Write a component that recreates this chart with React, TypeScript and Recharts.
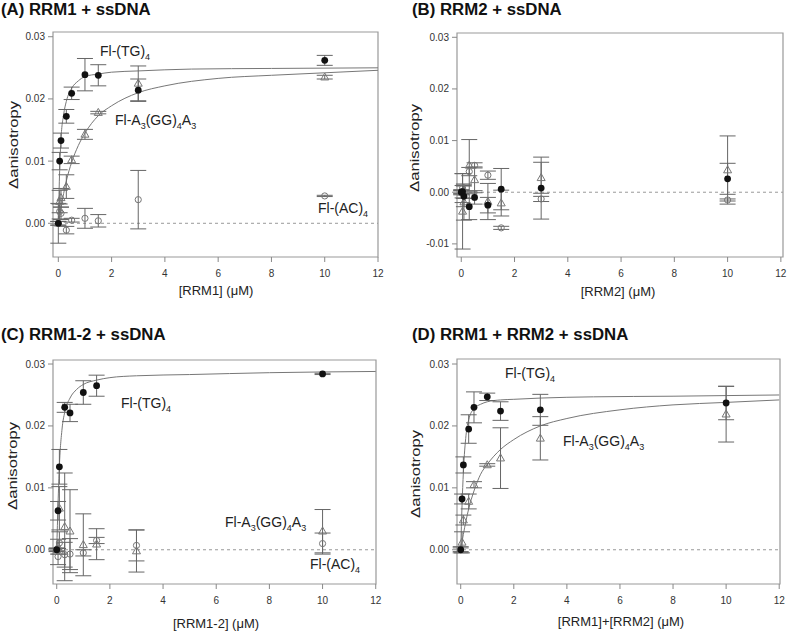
import React from "react";
import {
  ComposedChart,
  Scatter,
  Line,
  XAxis,
  YAxis,
  ErrorBar,
  ReferenceLine,
  ReferenceArea,
} from "recharts";

// concentrations (uM)
const conc = [0, 0.05, 0.1, 0.3, 0.5, 1, 1.5, 3, 10];
const concNo3 = [0, 0.05, 0.1, 0.3, 0.5, 1, 1.5, 10];
const xTicks = [0, 2, 4, 6, 8, 10, 12];
const yTicks = [0, 0.01, 0.02, 0.03];
const yTicksB = [-0.01, 0, 0.01, 0.02, 0.03];

// (A) RRM1
const aTG = [0, 0.01, 0.0133, 0.0172, 0.0209, 0.0239, 0.0238, 0.0214, 0.0262];
const aTGerr = [0.0032, 0.0014, 0.0012, 0.0011, 0.001, 0.0026, 0.0017, 0.0018, 0.0008];
const aA3 = [0, 0.0035, 0.0041, 0.0059, 0.0102, 0.0143, 0.0178, 0.0225, 0.0235];
const aA3err = [0.0003, 0.0018, 0.0015, 0.0019, 0.0006, 0.0008, 0.0002, 0.0028, 0.0003];
const aAC = [0, 0.0019, 0.0016, -0.0011, 0.0005, 0.0008, 0.0004, 0.0038, 0.0044];
const aACerr = [0.0003, 0.0012, 0.001, 0.0006, 0.0003, 0.0016, 0.001, 0.0047, 0.0001];
const aFitTGx = [0, 0.05, 0.1, 0.2, 0.3, 0.5, 0.75, 1, 1.5, 2, 3, 5, 8, 12];
const aFitTG = [0, 0.0085, 0.0135, 0.0175, 0.0196, 0.0217, 0.0229, 0.0236, 0.024, 0.0243, 0.0245, 0.0248, 0.0249, 0.025];
const aFitA3x = [0, 0.1, 0.2, 0.3, 0.5, 0.75, 1, 1.5, 2, 3, 4, 6, 8, 10, 12];
const aFitA3 = [0, 0.0025, 0.0048, 0.0068, 0.0098, 0.0125, 0.0145, 0.0173, 0.0189, 0.021, 0.0221, 0.0233, 0.0238, 0.0242, 0.0246];

// (B) RRM2
const bTG = [0, 0.0001, -0.0008, -0.0028, -0.001, -0.0025, 0.0006, 0.0008, 0.0026];
const bTGerr = [0.0005, 0.0012, 0.002, 0.0025, 0.0013, 0.0015, 0.004, 0.006, 0.003];
const bA3 = [0, -0.0037, -0.0019, 0.0052, 0.0024, -0.0018, -0.0021, 0.0028, 0.0043];
const bA3err = [0.0003, 0.0073, 0.0035, 0.005, 0.0025, 0.0035, 0.0025, 0.003, 0.0066];
const bAC = [0, 0.0008, 0.0001, 0.004, 0.0052, 0.0033, -0.0069, -0.0013, -0.0015];
const bACerr = [0.0003, 0.0028, 0.0013, 0.0008, 0.0005, 0.0008, 0.0003, 0.0005, 0.0002];

// (C) RRM1-2
const cTG = [0, 0.0063, 0.0134, 0.023, 0.0221, 0.0254, 0.0265, 0.0284];
const cTGerr = [0.0003, 0.0015, 0.0028, 0.0008, 0.0014, 0.0019, 0.0017, 0.0001];
const cA3 = [0, 0.0005, 0.0067, 0.0037, 0.003, 0.0008, 0.0009, -0.0002, 0.003];
const cA3err = [0.0002, 0.0012, 0.0035, 0.0087, 0.0067, 0.005, 0.0025, 0.0034, 0.0035];
const cAC = [0, -0.0011, 0.0011, -0.0008, -0.0007, -0.0005, 0.0015, 0.0007, 0.001];
const cACerr = [0.0002, 0.0013, 0.0018, 0.002, 0.0025, 0.0005, 0.0005, 0.0025, 0.0017];
const cFitTGx = [0, 0.05, 0.1, 0.2, 0.3, 0.5, 0.75, 1, 1.5, 2, 3, 5, 8, 12];
const cFitTG = [0, 0.0075, 0.0135, 0.0195, 0.0222, 0.0245, 0.0259, 0.0267, 0.0274, 0.0278, 0.0281, 0.0283, 0.0286, 0.0288];

// (D) RRM1 + RRM2
const dTG = [0, 0.0082, 0.0137, 0.0195, 0.023, 0.0247, 0.0224, 0.0226, 0.0237];
const dTGerr = [0.0003, 0.0008, 0.0013, 0.0023, 0.0025, 0.0006, 0.0015, 0.0025, 0.0027];
const dA3 = [0, 0.0012, 0.0048, 0.0078, 0.0105, 0.0137, 0.0148, 0.018, 0.0219];
const dA3err = [0.0005, 0.0017, 0.0008, 0.0012, 0.0005, 0.0002, 0.0049, 0.0035, 0.0045];
const dFitTGx = [0, 0.05, 0.1, 0.2, 0.3, 0.5, 0.75, 1, 1.5, 2, 3, 5, 8, 12];
const dFitTG = [0, 0.0072, 0.0125, 0.0185, 0.021, 0.0228, 0.0235, 0.0239, 0.0242, 0.0243, 0.0245, 0.0247, 0.0248, 0.025];
const dFitA3x = [0, 0.1, 0.2, 0.3, 0.5, 0.75, 1, 1.5, 2, 3, 4, 6, 8, 10, 12];
const dFitA3 = [0, 0.0025, 0.0047, 0.0066, 0.0095, 0.0122, 0.0138, 0.0162, 0.0178, 0.02, 0.0212, 0.0226, 0.0234, 0.0238, 0.0242];

const pts = (xs: number[], ys: number[], es: number[]) =>
  xs.map((x, i) => ({ x, y: ys[i], e: es[i] }));
const curve = (xs: number[], ys: number[]) => xs.map((x, i) => ({ x, y: ys[i] }));

const dot = (p: any) => <circle cx={p.cx} cy={p.cy} r={3.4} fill="#111" />;
const tri = (p: any) => (
  <path
    d={`M${p.cx},${p.cy - 4.2}L${p.cx + 4},${p.cy + 2.8}L${p.cx - 4},${p.cy + 2.8}Z`}
    fill="none"
    stroke="#777"
  />
);
const ring = (p: any) => <circle cx={p.cx} cy={p.cy} r={3.1} fill="none" stroke="#777" />;

type Series = { data: { x: number; y: number; e: number }[]; shape: any };

type PanelProps = {
  left: number;
  top: number;
  width: number;
  height: number;
  mTop: number;
  mRight: number;
  yW: number;
  xH: number;
  xDomain: [number, number];
  yDomain: [number, number];
  ticks: number[];
  series: Series[];
  fits: { x: number; y: number }[][];
};

function Panel(p: PanelProps) {
  return (
    <div style={{ position: "absolute", left: p.left, top: p.top }}>
      <ComposedChart
        width={p.width}
        height={p.height}
        margin={{ top: p.mTop, right: p.mRight, bottom: 0, left: 0 }}
      >
        <XAxis
          type="number"
          dataKey="x"
          domain={p.xDomain}
          ticks={xTicks}
          allowDataOverflow
          height={p.xH}
          axisLine={false}
          tickSize={5}
          tickMargin={8}
          tickLine={{ stroke: "#888" }}
          tick={{ fontSize: 10, fill: "#333" }}
        />
        <YAxis
          type="number"
          dataKey="y"
          domain={p.yDomain}
          ticks={p.ticks}
          allowDataOverflow
          width={p.yW}
          axisLine={false}
          tickSize={5}
          tickMargin={3}
          tickLine={{ stroke: "#888" }}
          tick={{ fontSize: 10, fill: "#333" }}
          tickFormatter={(v: number) => v.toFixed(2)}
        />
        <ReferenceArea
          x1={p.xDomain[0]}
          x2={p.xDomain[1]}
          y1={p.yDomain[0]}
          y2={p.yDomain[1]}
          fill="none"
          stroke="#999"
          strokeWidth={1.2}
          ifOverflow="visible"
        />
        <ReferenceLine y={0} stroke="#999" strokeDasharray="3 3" />
        {p.fits.map((f, i) => (
          <Line
            key={"f" + i}
            data={f}
            dataKey="y"
            type="monotone"
            stroke="#777"
            strokeWidth={1}
            dot={false}
            isAnimationActive={false}
          />
        ))}
        {p.series.map((s, i) => (
          <Scatter key={"s" + i} data={s.data} dataKey="y" shape={s.shape} isAnimationActive={false}>
            <ErrorBar dataKey="e" direction="y" width={8} stroke="#666" strokeWidth={1} />
          </Scatter>
        ))}
      </ComposedChart>
    </div>
  );
}

type Part = [string, boolean];
const labTG: Part[] = [["Fl-(TG)", false], ["4", true]];
const labA3: Part[] = [
  ["Fl-A", false],
  ["3", true],
  ["(GG)", false],
  ["4", true],
  ["A", false],
  ["3", true],
];
const labAC: Part[] = [["Fl-(AC)", false], ["4", true]];

function Tag({ x, y, parts }: { x: number; y: number; parts: Part[] }) {
  return (
    <text x={x} y={y} fontSize={14} fill="#222">
      {parts.map(([s, sub], i) => (
        <tspan key={i} fontSize={sub ? 9 : 14} dy={sub ? 4 : i > 0 && parts[i - 1][1] ? -4 : 0}>
          {s}
        </tspan>
      ))}
    </text>
  );
}

function YLab({ x, y }: { x: number; y: number }) {
  return (
    <text
      x={x}
      y={y}
      fontSize={13}
      fill="#222"
      textAnchor="middle"
      transform={`rotate(-90 ${x} ${y})`}
      textLength={88}
      lengthAdjust="spacingAndGlyphs"
    >
      Δanisotropy
    </text>
  );
}

export default function App() {
  return (
    <div
      style={{
        position: "absolute",
        left: 0,
        top: 0,
        width: 787,
        height: 631,
        background: "#fff",
        fontFamily: "'Liberation Sans', Arial, sans-serif",
      }}
    >
      <Panel
        left={0}
        top={0}
        width={390}
        height={300}
        mTop={32}
        mRight={12}
        yW={53}
        xH={43}
        xDomain={[-0.2, 12.0]}
        yDomain={[-0.00542, 0.03076]}
        ticks={yTicks}
        fits={[curve(aFitTGx, aFitTG), curve(aFitA3x, aFitA3)]}
        series={[
          { data: pts(conc, aAC, aACerr), shape: ring },
          { data: pts(conc, aA3, aA3err), shape: tri },
          { data: pts(conc, aTG, aTGerr), shape: dot },
        ]}
      />
      <Panel
        left={395}
        top={0}
        width={392}
        height={300}
        mTop={33}
        mRight={4}
        yW={62}
        xH={43}
        xDomain={[-0.16, 12.08]}
        yDomain={[-0.01254, 0.03083]}
        ticks={yTicksB}
        fits={[]}
        series={[
          { data: pts(conc, bAC, bACerr), shape: ring },
          { data: pts(conc, bA3, bA3err), shape: tri },
          { data: pts(conc, bTG, bTGerr), shape: dot },
        ]}
      />
      <Panel
        left={0}
        top={315}
        width={390}
        height={316}
        mTop={45}
        mRight={14}
        yW={53}
        xH={47}
        xDomain={[-0.14, 12.01]}
        yDomain={[-0.00553, 0.03065]}
        ticks={yTicks}
        fits={[curve(cFitTGx, cFitTG)]}
        series={[
          { data: pts(conc, cAC, cACerr), shape: ring },
          { data: pts(conc, cA3, cA3err), shape: tri },
          { data: pts(concNo3, cTG, cTGerr), shape: dot },
        ]}
      />
      <Panel
        left={395}
        top={315}
        width={392}
        height={316}
        mTop={44}
        mRight={7}
        yW={62}
        xH={47}
        xDomain={[-0.14, 12.03]}
        yDomain={[-0.00553, 0.03081]}
        ticks={yTicks}
        fits={[curve(dFitTGx, dFitTG), curve(dFitA3x, dFitA3)]}
        series={[
          { data: pts(conc, dA3, dA3err), shape: tri },
          { data: pts(conc, dTG, dTGerr), shape: dot },
        ]}
      />
      <svg
        width={787}
        height={631}
        style={{ position: "absolute", left: 0, top: 0, pointerEvents: "none" }}
      >
        <g fontSize={16.8} fontWeight="bold" fill="#111">
          <text x={1} y={15}>(A) RRM1 + ssDNA</text>
          <text x={412} y={15}>(B) RRM2 + ssDNA</text>
          <text x={1} y={340}>(C) RRM1-2 + ssDNA</text>
          <text x={412} y={340}>(D) RRM1 + RRM2 + ssDNA</text>
        </g>
        <g fontSize={13} fill="#222" textAnchor="middle">
          <text x={216} y={295}>[RRM1] (μM)</text>
          <text x={618} y={296}>[RRM2] (μM)</text>
          <text x={216} y={628}>[RRM1-2] (μM)</text>
          <text x={621} y={626}>[RRM1]+[RRM2] (μM)</text>
        </g>
        <YLab x={18} y={145} />
        <YLab x={419} y={148} />
        <YLab x={17} y={466} />
        <YLab x={420} y={474} />
        <Tag x={100} y={56} parts={labTG} />
        <Tag x={115} y={125} parts={labA3} />
        <Tag x={318} y={213} parts={labAC} />
        <Tag x={121} y={408} parts={labTG} />
        <Tag x={225} y={527} parts={labA3} />
        <Tag x={310} y={569} parts={labAC} />
        <Tag x={505} y={378} parts={labTG} />
        <Tag x={563} y={446} parts={labA3} />
      </svg>
    </div>
  );
}
